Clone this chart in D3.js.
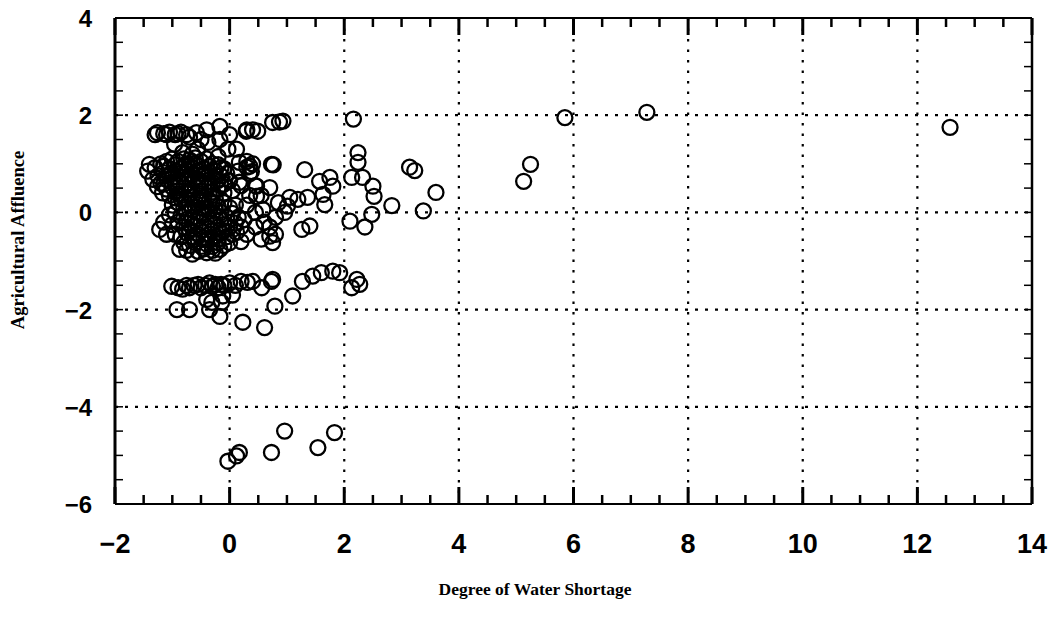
<!DOCTYPE html>
<html>
<head>
<meta charset="utf-8">
<script src="https://cdn.jsdelivr.net/npm/d3@7"></script>
<style>
  body { margin: 0; background: #fff; }
  .tick-label { font-family: "Liberation Sans", Arial, sans-serif; font-weight: bold; fill: #000; }
  .title { font-family: "Liberation Serif", "Times New Roman", serif; font-weight: bold; fill: #000; }
</style>
</head>
<body>
<div id="chart-area"></div>
<script>

// tick values
var xTicks = [-2, 0, 2, 4, 6, 8, 10, 12, 14];
var yTicks = [-6, -4, -2, 0, 2, 4];
var xGrid = [0, 2, 4, 6, 8, 10, 12];
var yGrid = [-4, -2, 0, 2];

// [degree of water shortage, agricultural affluence]
var farOut = [[12.57,1.75],[7.28,2.06],[5.85,1.95],[5.25,0.99],[5.13,0.64],[3.6,0.41],[3.38,0.03],
	[3.14,0.93],[3.23,0.86],[2.83,0.14]];

var nearTwo = [[2.16,1.92],[2.24,1.23],[2.24,1.03],[2.13,0.72],[2.32,0.72],[2.5,0.54],[2.52,0.33],
	[2.48,-0.04],[2.36,-0.3],[2.1,-0.18],[1.75,0.72],[1.8,0.54],[1.57,0.64],[1.63,0.37],[1.66,0.16],
	[1.36,0.31],[1.19,0.27],[1.05,0.31],[1.01,0.13],[0.96,0.0],[1.31,0.88],[1.4,-0.28],[1.26,-0.35]];

var nearOne = [[0.87,1.86],[0.93,1.88],[0.29,1.67],[0.49,1.67],[0.76,0.98],[0.7,0.51],[0.58,0.06],
	[0.47,0.33],[0.35,0.95],[0.4,1.0],[0.12,1.3],[0.7,-0.49],[0.75,-0.62],[0.3,1.05],[0.35,0.8],
	[0.45,0.55],[0.35,0.35],[0.3,0.15],[0.55,0.35],[0.45,0.0],[0.6,-0.2],[0.45,-0.3],[0.3,-0.45],
	[0.55,-0.55],[0.25,-0.15],[0.8,-0.1],[0.85,0.2],[0.7,-0.3],[0.8,-0.45],[0.2,0.55],[0.15,0.85],
	[0.2,-0.6],[0.17,1.03],[0.3,0.93],[0.38,0.84],[0.73,0.99],[0.47,0.54],[0.17,0.62]];

var topRow = [[-1.3,1.6],[-1.26,1.64],[-1.15,1.62],[-1.05,1.65],[-0.95,1.6],[-0.85,1.65],[-0.75,1.6],
	[-0.58,1.64],[-0.4,1.7],[-0.17,1.77],[0.0,1.6],[-0.03,1.3],[-0.17,1.5],[-0.38,1.44],[-0.56,1.3],
	[-0.96,1.4],[-0.82,1.23],[-0.2,1.15],[0.4,1.7],[0.3,1.7],[0.75,1.85],[-1.1,1.6],[-0.9,1.62],
	[-0.7,1.55],[-0.5,1.5],[-0.65,1.2]];

var upperBlob = [[-1.4,0.99],[-1.43,0.85],[-1.34,0.68],[-1.26,0.53],[-1.17,0.4],[-1.05,0.35],
	[-1.3,0.92],[-1.2,1.0],[-1.1,1.05],[-1.0,1.1],[-0.9,1.05],[-0.8,1.1],[-0.7,1.08],[-0.6,1.12],
	[-0.5,1.05],[-0.4,1.1],[-0.3,1.0],[-0.2,0.98],[-0.1,0.9],
	[-1.25,0.75],[-1.15,0.82],[-1.05,0.9],[-0.95,0.85],[-0.85,0.9],[-0.75,0.88],[-0.65,0.92],
	[-0.55,0.85],[-0.45,0.9],[-0.35,0.82],[-0.25,0.85],[-0.15,0.75],[-0.05,0.8],
	[-1.2,0.6],[-1.1,0.68],[-1.0,0.72],[-0.9,0.65],[-0.8,0.72],[-0.7,0.68],[-0.6,0.7],[-0.5,0.65],
	[-0.4,0.72],[-0.3,0.62],[-0.2,0.66],[-0.1,0.58],[0.0,0.65],
	[-1.1,0.48],[-1.0,0.52],[-0.9,0.45],[-0.8,0.5],[-0.7,0.46],[-0.6,0.52],[-0.5,0.45],[-0.4,0.5],
	[-0.3,0.42],[-0.2,0.48],[-0.1,0.4],[0.05,0.45],
	[-0.95,0.3],[-0.85,0.35],[-0.75,0.28],[-0.65,0.32],[-0.55,0.26],[-0.45,0.3],[-0.35,0.25],
	[-1.15,0.95],[-0.95,0.98],[-0.75,1.0],[-0.55,0.97],[-0.35,0.95],[-0.15,0.92],
	[-1.15,0.58],[-0.95,0.6],[-0.75,0.58],[-0.55,0.6],[-0.35,0.58],[-0.15,0.55],
	[-1.05,0.78],[-0.85,0.8],[-0.65,0.78],[-0.45,0.8],[-0.25,0.76],
	[-0.9,0.38],[-0.7,0.4],[-0.5,0.38],[-0.3,0.35],[-0.6,1.0],[-0.8,0.96]];

var lowerBlob = [[-1.22,-0.35],[-1.15,-0.2],[-1.1,-0.45],[-0.87,-0.76],[-0.65,-0.86],[-0.4,-0.83],
	[-0.17,-0.76],[0.0,-0.62],[0.12,-0.41],
	[-1.0,0.15],[-0.9,0.2],[-0.8,0.1],[-0.7,0.18],[-0.6,0.12],[-0.5,0.2],[-0.4,0.1],[-0.3,0.18],
	[-0.2,0.12],[-0.1,0.2],[0.0,0.1],[0.1,0.15],
	[-1.05,-0.05],[-0.95,0.0],[-0.85,-0.08],[-0.75,-0.02],[-0.65,-0.1],[-0.55,0.0],[-0.45,-0.05],
	[-0.35,0.02],[-0.25,-0.08],[-0.15,0.0],[-0.05,-0.1],[0.05,-0.02],[0.15,-0.1],
	[-1.0,-0.25],[-0.9,-0.2],[-0.8,-0.3],[-0.7,-0.22],[-0.6,-0.28],[-0.5,-0.2],[-0.4,-0.3],
	[-0.3,-0.22],[-0.2,-0.3],[-0.1,-0.25],[0.0,-0.3],[0.1,-0.22],[0.2,-0.3],
	[-0.95,-0.45],[-0.85,-0.5],[-0.75,-0.42],[-0.65,-0.5],[-0.55,-0.45],[-0.45,-0.52],[-0.35,-0.45],
	[-0.25,-0.5],[-0.15,-0.42],[-0.05,-0.5],[0.05,-0.45],
	[-0.8,-0.62],[-0.7,-0.68],[-0.6,-0.62],[-0.5,-0.7],[-0.4,-0.65],[-0.3,-0.7],[-0.2,-0.62],
	[-0.1,-0.68],[-0.55,-0.8],[-0.3,-0.78],
	[-0.75,-0.15],[-0.55,-0.12],[-0.35,-0.15],[-0.15,-0.15],[-0.65,0.05],[-0.45,0.08],[-0.25,0.05],
	[-0.7,-0.38],[-0.5,-0.36],[-0.3,-0.38],[-0.1,-0.38],[-0.6,-0.55],[-0.4,-0.56],[-0.2,-0.55],
	[-0.75,-0.78],[-0.45,-0.75],[-0.25,-0.84],[-0.85,0.28],[-0.55,0.3],[-0.25,0.28]];

var lowRow = [[-1.01,-1.52],[-0.9,-1.55],[-0.82,-1.58],[-0.75,-1.5],[-0.7,-1.55],[-0.62,-1.5],
	[-0.55,-1.48],[-0.5,-1.55],[-0.42,-1.5],[-0.35,-1.45],[-0.3,-1.52],[-0.25,-1.48],[-0.2,-1.55],
	[-0.15,-1.48],[-0.1,-1.5],[0.0,-1.45],[0.1,-1.5],[0.2,-1.42],[0.31,-1.44],[0.4,-1.42],[0.56,-1.55],
	[0.73,-1.42],[0.75,-1.38],[1.27,-1.42],[1.45,-1.31],[1.6,-1.24],[1.8,-1.21],[1.92,-1.24],
	[2.22,-1.38],[2.27,-1.48],[2.13,-1.55],[1.1,-1.72],[0.79,-1.93],[0.61,-2.37],[0.23,-2.26],
	[-0.17,-2.14],[-0.31,-1.85],[-0.14,-1.85],[-0.35,-2.0],[-0.92,-2.0],[-0.7,-2.0],[-0.4,-1.79],
	[-0.12,-1.72],[0.05,-1.7]];

var bottomGroup = [[-0.03,-5.12],[0.12,-5.01],[0.17,-4.94],[0.73,-4.94],[0.96,-4.5],[1.54,-4.84],[1.83,-4.53]];

var data = [].concat(farOut, nearTwo, nearOne, topRow, upperBlob, lowerBlob, lowRow, bottomGroup);

var margin = {left:115, right:19, top:18, bottom:121};
var width = 1051 - margin.left - margin.right,
	height = 625 - margin.top - margin.bottom;

var svg = d3.select("#chart-area")
	.append("svg")
		.attr("width", 1051)
		.attr("height", 625);

var g = svg.append("g")
	.attr("transform", "translate(" + margin.left + "," + margin.top + ")");

var x = d3.scaleLinear().domain([-2, 14]).range([0, width]);
var y = d3.scaleLinear().domain([-6, 4]).range([height, 0]);

// dotted grid
g.selectAll(".vgrid").data(xGrid).enter().append("line")
	.attr("x1", function(d){ return x(d); })
	.attr("x2", function(d){ return x(d); })
	.attr("y1", 0).attr("y2", height)
	.attr("stroke", "#000").attr("stroke-width", 2.2)
	.attr("stroke-dasharray", "2.5,8");

g.selectAll(".hgrid").data(yGrid).enter().append("line")
	.attr("x1", 0).attr("x2", width)
	.attr("y1", function(d){ return y(d); })
	.attr("y2", function(d){ return y(d); })
	.attr("stroke", "#000").attr("stroke-width", 2.2)
	.attr("stroke-dasharray", "3,7");

// inward ticks on all four sides
var xMinor = d3.range(-2, 14.01, 0.5);
var yMinor = d3.range(-6, 4.01, 0.5);

function isMajor(v) { return Math.abs(v % 2) < 1e-6; }

g.selectAll(".xtb").data(xMinor).enter().append("line")
	.attr("x1", function(d){ return x(d); }).attr("x2", function(d){ return x(d); })
	.attr("y1", height)
	.attr("y2", function(d){ return height - (isMajor(d) ? 17 : 9); })
	.attr("stroke", "#000").attr("stroke-width", function(d){ return isMajor(d) ? 3 : 2.5; });

g.selectAll(".xtt").data(xMinor).enter().append("line")
	.attr("x1", function(d){ return x(d); }).attr("x2", function(d){ return x(d); })
	.attr("y1", 0)
	.attr("y2", function(d){ return isMajor(d) ? 17 : 9; })
	.attr("stroke", "#000").attr("stroke-width", function(d){ return isMajor(d) ? 3 : 2.5; });

g.selectAll(".ytl").data(yMinor).enter().append("line")
	.attr("x1", 0).attr("x2", 8)
	.attr("y1", function(d){ return y(d); }).attr("y2", function(d){ return y(d); })
	.attr("stroke", "#000").attr("stroke-width", 1.5);

g.selectAll(".ytr").data(yMinor).enter().append("line")
	.attr("x1", width).attr("x2", width - 8)
	.attr("y1", function(d){ return y(d); }).attr("y2", function(d){ return y(d); })
	.attr("stroke", "#000").attr("stroke-width", 1.5);

// frame
g.append("line").attr("x1", 0).attr("x2", 0).attr("y1", 0).attr("y2", height)
	.attr("stroke", "#000").attr("stroke-width", 3);
g.append("line").attr("x1", width).attr("x2", width).attr("y1", 0).attr("y2", height)
	.attr("stroke", "#000").attr("stroke-width", 2.5);
g.append("line").attr("x1", 0).attr("x2", width).attr("y1", 0).attr("y2", 0)
	.attr("stroke", "#000").attr("stroke-width", 2);
g.append("line").attr("x1", 0).attr("x2", width).attr("y1", height).attr("y2", height)
	.attr("stroke", "#000").attr("stroke-width", 2);

// tick labels
g.selectAll(".xl").data(xTicks).enter().append("text")
	.attr("class", "tick-label")
	.attr("x", function(d){ return x(d); })
	.attr("y", height + 49)
	.attr("text-anchor", "middle")
	.style("font-size", "27px")
	.text(function(d){ return d < 0 ? "\u2212" + Math.abs(d) : d; });

g.selectAll(".yl").data(yTicks).enter().append("text")
	.attr("class", "tick-label")
	.attr("x", -23)
	.attr("y", function(d){ return y(d) + 9; })
	.attr("text-anchor", "end")
	.style("font-size", "24px")
	.text(function(d){ return d < 0 ? "\u2212" + Math.abs(d) : d; });

// points
g.selectAll("circle").data(data).enter().append("circle")
	.attr("cx", function(d){ return x(d[0]); })
	.attr("cy", function(d){ return y(d[1]); })
	.attr("r", 7.5)
	.attr("fill", "none")
	.attr("stroke", "#000")
	.attr("stroke-width", 2.3);

// axis titles
svg.append("text").attr("class", "title")
	.attr("x", 535).attr("y", 595)
	.attr("text-anchor", "middle")
	.style("font-size", "17.5px")
	.text("Degree of Water Shortage");

svg.append("text").attr("class", "title")
	.attr("transform", "translate(24,240) rotate(-90)")
	.attr("text-anchor", "middle")
	.style("font-size", "18.5px")
	.text("Agricultural Affluence");

</script>
</body>
</html>
